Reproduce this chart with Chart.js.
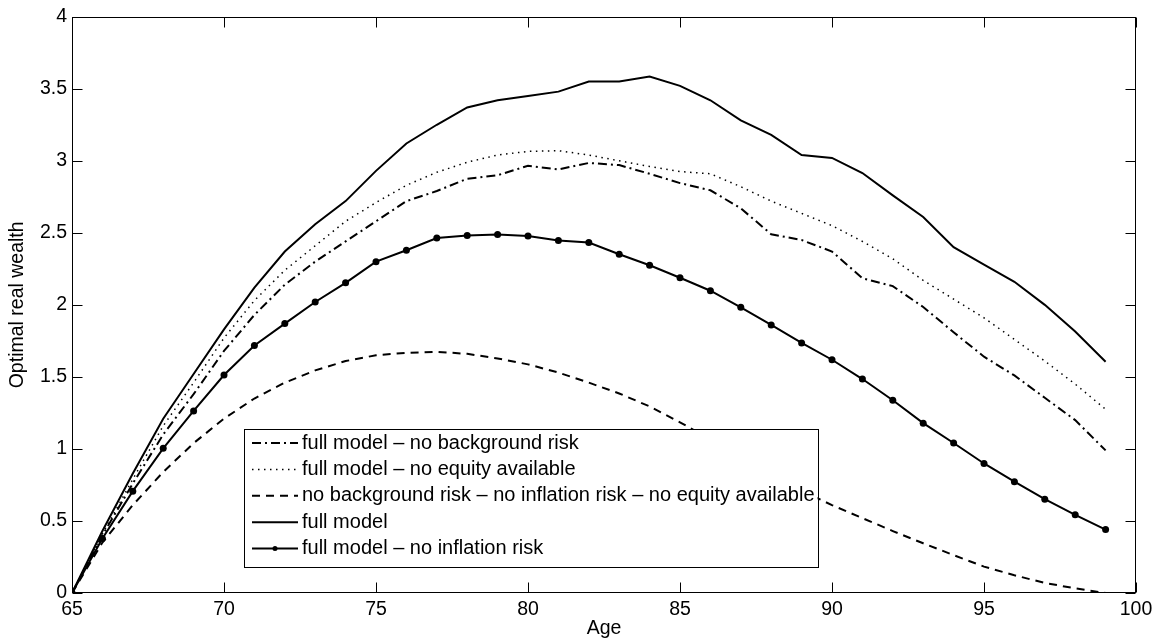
<!DOCTYPE html>
<html>
<head>
<meta charset="utf-8">
<title>Optimal real wealth by age</title>
<script src="https://cdn.jsdelivr.net/npm/chart.js@4.4.0/dist/chart.umd.min.js"></script>
<style>
  html, body { margin: 0; padding: 0; background: #fff; }
  #wrap { width: 1164px; height: 644px; }
</style>
</head>
<body>
<div id="wrap"><canvas id="wealthChart" width="1164" height="644"></canvas></div>
<script>
const ages = [65, 66, 67, 68, 69, 70, 71, 72, 73, 74, 75, 76, 77, 78, 79, 80, 81, 82,
              83, 84, 85, 86, 87, 88, 89, 90, 91, 92, 93, 94, 95, 96, 97, 98, 99];

// full model – no background risk
const noBackgroundRisk = [0, 0.40, 0.76, 1.10, 1.38, 1.68, 1.93, 2.14, 2.30, 2.44, 2.58, 2.72,
  2.79, 2.875, 2.90, 2.965, 2.94, 2.985, 2.97, 2.91, 2.845, 2.795, 2.67, 2.49, 2.45, 2.37,
  2.185, 2.13, 1.985, 1.81, 1.64, 1.51, 1.355, 1.20, 0.99];

// full model – no equity available
const noEquity = [0, 0.41, 0.79, 1.16, 1.46, 1.77, 2.03, 2.24, 2.41, 2.58, 2.71, 2.83,
  2.92, 2.99, 3.04, 3.065, 3.07, 3.04, 3.00, 2.96, 2.925, 2.91, 2.82, 2.72, 2.635, 2.55,
  2.44, 2.32, 2.17, 2.04, 1.91, 1.76, 1.61, 1.45, 1.275];

// no background risk – no inflation risk – no equity available
const simpleModel = [0, 0.35, 0.61, 0.84, 1.04, 1.21, 1.35, 1.46, 1.545, 1.61, 1.65, 1.667,
  1.674, 1.66, 1.628, 1.587, 1.53, 1.46, 1.385, 1.295, 1.185, 1.065, 0.945, 0.825, 0.71, 0.61,
  0.52, 0.43, 0.345, 0.263, 0.183, 0.123, 0.07, 0.032, 0];

// full model
const fullModel = [0, 0.43, 0.83, 1.21, 1.52, 1.83, 2.12, 2.37, 2.56, 2.72, 2.93, 3.12,
  3.25, 3.37, 3.42, 3.45, 3.48, 3.55, 3.55, 3.585, 3.52, 3.42, 3.28, 3.18, 3.04, 3.02,
  2.915, 2.76, 2.61, 2.40, 2.28, 2.16, 2.00, 1.815, 1.605];

// full model – no inflation risk
const noInflationRisk = [0, 0.378, 0.707, 1.004, 1.264, 1.513, 1.718, 1.87, 2.02, 2.153, 2.30, 2.379,
  2.464, 2.482, 2.489, 2.478, 2.446, 2.432, 2.351, 2.275, 2.188, 2.098, 1.983, 1.861, 1.736, 1.619,
  1.485, 1.338, 1.179, 1.041, 0.899, 0.773, 0.651, 0.543, 0.44];

const seriesNames = [
  'full model \u2013 no background risk',
  'full model \u2013 no equity available',
  'no background risk \u2013 no inflation risk \u2013 no equity available',
  'full model',
  'full model \u2013 no inflation risk'
];

const FONT = '"Liberation Sans", Arial, Helvetica, sans-serif';
const toPoints = vals => vals.map((v, i) => ({ x: ages[i], y: v }));

const baseLine = { borderColor: '#000', backgroundColor: '#000', fill: false, tension: 0,
  pointRadius: 0, pointHoverRadius: 0, borderWidth: 2 };

// box round the axes, inward ticks on all four sides, and the boxed legend
const framePlugin = {
  id: 'framePlugin',
  afterDatasetsDraw(chart) {
    const { ctx, chartArea: a, scales: { x, y } } = chart;
    const L = Math.round(a.left) + 0.5, R = Math.round(a.right) - 0.5;
    const T = Math.round(a.top) + 0.5, B = Math.round(a.bottom) - 0.5;
    const tick = 10;
    ctx.save();
    ctx.strokeStyle = '#000';
    ctx.lineWidth = 1;
    ctx.setLineDash([]);
    ctx.beginPath();
    x.ticks.forEach(t => {
      const px = Math.round(x.getPixelForValue(t.value)) + 0.5;
      ctx.moveTo(px, B); ctx.lineTo(px, B - tick);
      ctx.moveTo(px, T); ctx.lineTo(px, T + tick);
    });
    y.ticks.forEach(t => {
      const py = Math.round(y.getPixelForValue(t.value)) + 0.5;
      ctx.moveTo(L, py); ctx.lineTo(L + tick, py);
      ctx.moveTo(R, py); ctx.lineTo(R - tick, py);
    });
    ctx.stroke();
    ctx.strokeRect(L, T, R - L, B - T);

    // legend
    ctx.font = '20px ' + FONT;
    const left = 244, top = 429, rowH = 26.4;
    const sampleX0 = left + 8, sampleX1 = left + 54, textX = left + 58;
    let maxW = 0;
    chart.data.datasets.forEach(ds => { maxW = Math.max(maxW, ctx.measureText(ds.label).width); });
    const w = textX - left + maxW + 3;
    const h = rowH * 5 + 6;
    ctx.fillStyle = '#fff';
    ctx.fillRect(left, top, w, h);
    ctx.strokeRect(left + 0.5, top + 0.5, Math.round(w), Math.round(h));
    chart.data.datasets.forEach((ds, i) => {
      const cy = top + 14 + i * rowH;
      ctx.save();
      ctx.strokeStyle = ds.borderColor;
      ctx.lineWidth = ds.borderWidth;
      ctx.setLineDash(ds.borderDash || []);
      ctx.beginPath();
      ctx.moveTo(sampleX0, cy);
      ctx.lineTo(sampleX1, cy);
      ctx.stroke();
      if (ds.pointRadius > 0) {
        ctx.fillStyle = '#000';
        ctx.beginPath();
        ctx.arc((sampleX0 + sampleX1) / 2, cy, 2.5, 0, Math.PI * 2);
        ctx.fill();
      }
      ctx.restore();
      ctx.fillStyle = '#000';
      ctx.textBaseline = 'middle';
      ctx.textAlign = 'left';
      ctx.fillText(ds.label, textX, cy);
    });
    ctx.restore();
  }
};

const tickFont = { family: FONT, size: 19.5 };

const ctx = document.getElementById('wealthChart').getContext('2d');
new Chart(ctx, {
  type: 'line',
  data: {
    datasets: [
      { ...baseLine, label: seriesNames[0], data: toPoints(noBackgroundRisk), borderDash: [9, 4, 2, 4] },
      { ...baseLine, label: seriesNames[1], data: toPoints(noEquity), borderWidth: 1.5, borderDash: [1.5, 4.5] },
      { ...baseLine, label: seriesNames[2], data: toPoints(simpleModel), borderDash: [8, 6] },
      { ...baseLine, label: seriesNames[3], data: toPoints(fullModel) },
      { ...baseLine, label: seriesNames[4], data: toPoints(noInflationRisk),
        pointRadius: 3.5, pointBackgroundColor: '#000', pointBorderWidth: 0 }
    ]
  },
  options: {
    responsive: false,
    animation: false,
    devicePixelRatio: 1,
    layout: { padding: { left: 0, top: 14, right: 28, bottom: 0 } },
    plugins: { legend: { display: false }, tooltip: { enabled: false } },
    elements: { line: { borderCapStyle: 'butt' } },
    scales: {
      x: {
        type: 'linear', min: 65, max: 100,
        grid: { display: false, drawTicks: false },
        border: { display: false },
        ticks: { stepSize: 5, color: '#000', padding: 5, font: tickFont,
                 callback: v => String(v) },
        title: { display: true, text: 'Age', color: '#000', padding: { top: 0, bottom: 4 },
                 font: tickFont },
        afterFit(scale) { scale.height = 51; }
      },
      y: {
        type: 'linear', min: 0, max: 4,
        grid: { display: false, drawTicks: false },
        border: { display: false },
        ticks: { stepSize: 0.5, color: '#000', padding: 5, font: tickFont,
                 callback: v => String(Math.round(v * 10) / 10) },
        title: { display: true, text: 'Optimal real wealth', color: '#000', padding: { top: 6, bottom: 0 },
                 font: tickFont },
        afterFit(scale) { scale.width = 72; }
      }
    }
  },
  plugins: [framePlugin]
});
</script>
</body>
</html>
